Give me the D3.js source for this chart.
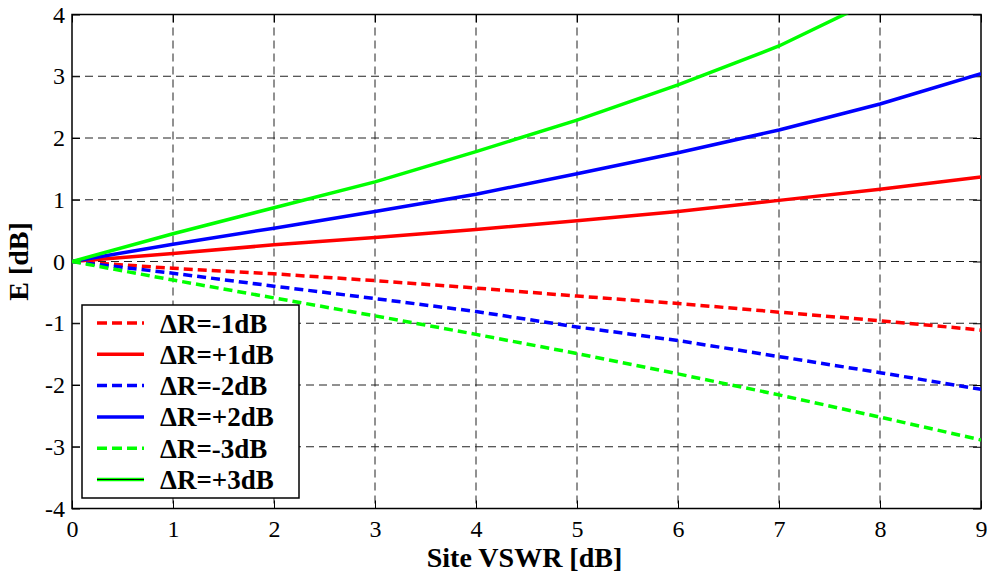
<!DOCTYPE html>
<html>
<head>
<meta charset="utf-8">
<script src="https://cdn.jsdelivr.net/npm/d3@7"></script>
<style>
  body { margin: 0; background: #fff; }
  svg { display: block; font-family: "Liberation Serif", "Times New Roman", serif; }
</style>
</head>
<body>
<div id="chart"></div>
<script>
// readings
var xs = [0, 1, 2, 3, 4, 5, 6, 7, 8, 9];
var plus1 = [0, 0.13, 0.27, 0.39, 0.52, 0.66, 0.81, 0.99, 1.17, 1.37];
var minus1 = [0, -0.11, -0.20, -0.31, -0.43, -0.56, -0.68, -0.82, -0.96, -1.11];
var plus2 = [0, 0.28, 0.54, 0.81, 1.09, 1.42, 1.76, 2.13, 2.55, 3.04];
var minus2 = [0, -0.19, -0.40, -0.60, -0.81, -1.06, -1.28, -1.54, -1.80, -2.07];
var plus3 = [0, 0.45, 0.87, 1.29, 1.78, 2.29, 2.86, 3.49, 4.28, 5.15];
var minus3 = [0, -0.30, -0.59, -0.88, -1.18, -1.49, -1.82, -2.16, -2.52, -2.89];
var xTicks = [0, 1, 2, 3, 4, 5, 6, 7, 8, 9];
var yTicks = [-4, -3, -2, -1, 0, 1, 2, 3, 4];

var series = [
  {name: "\u0394R=-1dB", values: minus1, color: "#ff0000", dashed: true},
  {name: "\u0394R=+1dB", values: plus1, color: "#ff0000", dashed: false},
  {name: "\u0394R=-2dB", values: minus2, color: "#0000ff", dashed: true},
  {name: "\u0394R=+2dB", values: plus2, color: "#0000ff", dashed: false},
  {name: "\u0394R=-3dB", values: minus3, color: "#00ff00", dashed: true},
  {name: "\u0394R=+3dB", values: plus3, color: "#00ff00", dashed: false}
];

var margin = {top: 14.5, right: 6, bottom: 67.5, left: 72};
var width = 987 - margin.left - margin.right,
    height = 576 - margin.top - margin.bottom;

var svg = d3.select("#chart").append("svg")
    .attr("width", 987)
    .attr("height", 576);

var g = svg.append("g")
    .attr("transform", "translate(" + margin.left + "," + margin.top + ")");

var x = d3.scaleLinear().domain([0, 9]).range([0, width]);
var y = d3.scaleLinear().domain([-4, 4]).range([height, 0]);

g.append("clipPath").attr("id", "clip")
  .append("rect").attr("width", width).attr("height", height);

// grid
g.append("g").selectAll("line").data(xTicks.slice(1, -1)).enter().append("line")
    .attr("x1", function(d) { return x(d); }).attr("x2", function(d) { return x(d); })
    .attr("y1", 0).attr("y2", height)
    .style("stroke", "#222").style("stroke-width", 1).style("stroke-dasharray", "8,5");
g.append("g").selectAll("line").data(yTicks.slice(1, -1)).enter().append("line")
    .attr("y1", function(d) { return y(d); }).attr("y2", function(d) { return y(d); })
    .attr("x1", 0).attr("x2", width)
    .style("stroke", "#222").style("stroke-width", 1).style("stroke-dasharray", "8,5");

// axes, matlab style ticks inside on all four sides
var fmt = function(d) { return String(d); };
var xAxis = d3.axisBottom(x).tickValues(xTicks).tickFormat(fmt).tickSize(-8).tickSizeOuter(0).tickPadding(11);
var yAxis = d3.axisLeft(y).tickValues(yTicks).tickFormat(fmt).tickSize(-8).tickSizeOuter(0).tickPadding(7);

g.append("g").attr("class", "x-Axis")
    .attr("transform", "translate(0," + height + ")")
    .call(xAxis);
g.append("g").attr("class", "y-Axis").call(yAxis);
g.append("g").attr("transform", "translate(0,0)")
    .call(d3.axisTop(x).tickValues(xTicks).tickSize(-8).tickSizeOuter(0).tickFormat(""));
g.append("g").attr("transform", "translate(" + width + ",0)")
    .call(d3.axisRight(y).tickValues(yTicks).tickSize(-8).tickSizeOuter(0).tickFormat(""));

g.selectAll(".domain").remove();
g.selectAll(".tick line").style("stroke", "#000").style("stroke-width", 1);
g.selectAll(".x-Axis, .y-Axis")
    .attr("font-family", "Liberation Serif")
    .attr("font-size", 24);
g.selectAll(".tick text")
    .style("font-family", "'Liberation Serif', 'Times New Roman', serif")
    .style("font-size", "24px").style("fill", "#000");

g.append("rect")
    .attr("width", width).attr("height", height)
    .style("fill", "none").style("stroke", "#000").style("stroke-width", 1.5);

// curves
var line = d3.line()
    .x(function(d, i) { return x(xs[i]); })
    .y(function(d) { return y(d); });

g.append("g").attr("clip-path", "url(#clip)")
  .selectAll("path").data(series).enter().append("path")
    .attr("d", function(d) { return line(d.values); })
    .style("fill", "none")
    .style("stroke", function(d) { return d.color; })
    .style("stroke-width", 3.5)
    .style("stroke-dasharray", function(d) { return d.dashed ? "9,5" : null; });

// axis titles
svg.append("text")
    .attr("x", margin.left + width / 2 - 2).attr("y", 567)
    .style("text-anchor", "middle").style("font-weight", "bold").style("font-size", "28px")
    .text("Site VSWR [dB]");

svg.append("text")
    .attr("transform", "translate(28," + (margin.top + height / 2) + ") rotate(-90)")
    .style("text-anchor", "middle").style("font-weight", "bold").style("font-size", "28px")
    .text("E [dB]");

// legend
var legend = svg.append("g").attr("class", "legend")
    .attr("transform", "translate(82,305)");

legend.append("rect")
    .attr("width", 217).attr("height", 193)
    .style("fill", "#fff").style("stroke", "#000").style("stroke-width", 1.5);

var item = legend.selectAll(".item").data(series).enter().append("g")
    .attr("transform", function(d, i) { return "translate(0," + (18 + i * 31.3) + ")"; });

item.append("line")
    .attr("x1", 15).attr("x2", 62).attr("y1", 0).attr("y2", 0)
    .style("stroke", function(d) { return d.color; })
    .style("stroke-width", 3.5)
    .style("stroke-dasharray", function(d) { return d.dashed ? "10,5" : null; });

item.filter(function(d, i) { return i === 5; }).append("line")
    .attr("x1", 15).attr("x2", 62).attr("y1", 0).attr("y2", 0)
    .style("stroke", "#000").style("stroke-width", 1);

item.append("text")
    .attr("x", 78).attr("y", 9.5)
    .style("font-weight", "bold").style("font-size", "27px")
    .text(function(d) { return d.name; });
</script>
</body>
</html>
